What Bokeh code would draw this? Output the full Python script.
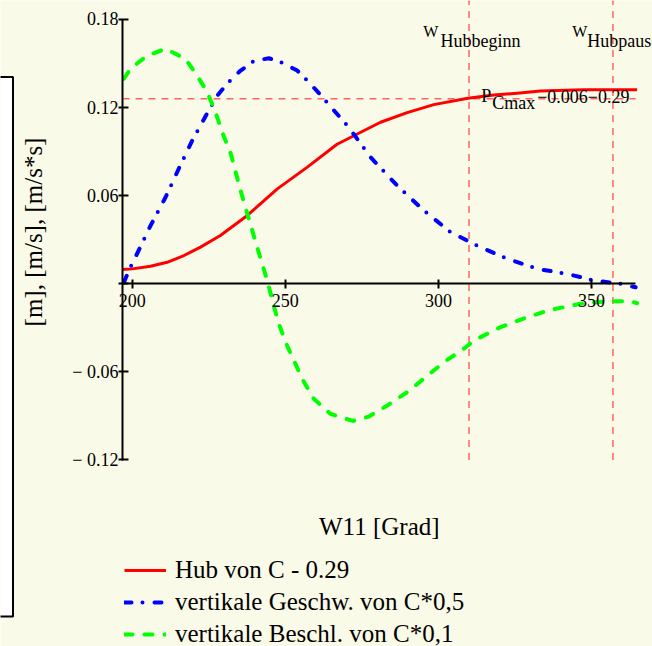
import math
from bokeh.plotting import figure
from bokeh.models import (Label, Legend, LegendItem, FixedTicker, LinearAxis,
                          BoxAnnotation, Range1d)
from bokeh.embed import file_html
from bokeh.resources import INLINE

# ---------------- data ----------------
hub_deg = [196.7, 200.0, 206.0, 211.4, 216.9, 222.3, 228.8, 237.6, 247.4, 257.2,
           266.9, 281.1, 289.8, 298.5, 309.6, 318.1, 325.7, 333.3, 347.5, 364.9]
hub_val = [0.0097, 0.0101, 0.0119, 0.0146, 0.0192, 0.0249, 0.0328, 0.0465, 0.0646, 0.0794,
           0.0950, 0.1100, 0.1165, 0.1220, 0.1263, 0.1285, 0.1298, 0.1313, 0.1322, 0.1322]

v_deg = [197.3, 199.4, 201.6, 206.0, 210.9, 215.2, 219.6, 222.3, 225.0, 227.8, 231.0,
         235.4, 239.7, 244.6, 249.0, 253.9, 258.2, 262.6, 266.4, 270.7, 277.8, 286.5,
         295.2, 304.0, 313.7, 322.5, 332.3, 342.1, 350.8, 359.5, 364.4]
v_val = [0.0010, 0.0112, 0.0204, 0.0396, 0.0589, 0.0783, 0.0975, 0.1078, 0.1180, 0.1282, 0.1362,
         0.1452, 0.1516, 0.1536, 0.1505, 0.1452, 0.1362, 0.1260, 0.1168, 0.1066, 0.0862, 0.0669,
         0.0499, 0.0351, 0.0249, 0.0170, 0.0101, 0.0067, 0.0022, -0.0001, -0.0024]

a_deg = [197.3, 199.4, 204.9, 210.9, 217.4, 221.2, 224.5, 227.2, 229.4, 232.2, 235.4, 237.6,
         240.8, 244.4, 246.2, 247.9, 250.1, 252.8, 255.5, 259.3, 264.7, 272.0, 277.3, 283.3,
         289.8, 295.8, 301.8, 308.3, 311.6, 320.3, 329.0, 336.6, 346.4, 355.1, 362.7, 364.9]
a_val = [0.1396, 0.1464, 0.1554, 0.1600, 0.1532, 0.1418, 0.1305, 0.1168, 0.1032, 0.0885, 0.0635, 0.0476,
         0.0249, 0.0000, -0.0149, -0.0273, -0.0399, -0.0523, -0.0648, -0.0784, -0.0886, -0.0935, -0.0905, -0.0830,
         -0.0739, -0.0637, -0.0535, -0.0443, -0.0387, -0.0296, -0.0228, -0.0178, -0.0137, -0.0119, -0.0119, -0.0133]

series_labels = ["Hub von C - 0.29", "vertikale Geschw. von C*0,5", "vertikale Beschl. von C*0,1"]

x_ticks = [200, 250, 300, 350]
x_tick_labels = ["200", "250", "300", "350"]
y_ticks = [-0.12, -0.06, 0.0, 0.06, 0.12, 0.18]
y_tick_labels = ["\u2212 0.12", "\u2212 0.06", "", "0.06", "0.12", "0.18"]

x_axis_bounds = (196.83, 364.4)
y_axis_bounds = (-0.1201, 0.1801)

w_hubbeginn = 310.0
w_hubpause = 357.0
p_cmax_line = 0.126

x_title = "W11 [Grad]"
y_title = "[m], [m/s], [m/s*s]"

# ---------------- layout ----------------
BG = "#FAFAE8"
FONT = "'Liberation Serif', 'Times New Roman', Tinos, 'Nimbus Roman', 'DejaVu Serif', serif"
W, H = 652, 646
X_LO, X_HI = 156.99, 369.92
Y_LO, Y_HI = -0.24714, 0.19292
SX = W / (X_HI - X_LO)
SY = H / (Y_HI - Y_LO)


def fx(px):
    """canvas pixel -> data x (text placement only)"""
    return X_LO + px / SX


def fy(py):
    return Y_HI - py / SY


p = figure(width=W, height=H, output_backend="svg", toolbar_location=None, title=None,
           x_range=Range1d(X_LO, X_HI), y_range=Range1d(Y_LO, Y_HI),
           x_axis_type=None, y_axis_type=None,
           min_border_left=0, min_border_right=0, min_border_top=0, min_border_bottom=0,
           background_fill_color=BG, border_fill_color=BG, outline_line_color=None)
p.grid.visible = False


def style_axis(ax, tick_in, tick_out, standoff):
    ax.axis_line_width = 2
    ax.axis_line_color = "black"
    ax.major_tick_line_width = 2
    ax.major_tick_line_color = "black"
    ax.major_tick_in = tick_in
    ax.major_tick_out = tick_out
    ax.minor_tick_line_color = None
    ax.major_label_standoff = standoff
    ax.major_label_text_font = FONT
    ax.major_label_text_font_size = "18px"
    ax.major_label_text_color = "black"


# y axis (at the left end of the x range)
yaxis = LinearAxis(ticker=FixedTicker(ticks=y_ticks), bounds=y_axis_bounds,
                   fixed_location=x_axis_bounds[0])
yaxis.major_label_overrides = dict(zip(y_ticks, y_tick_labels))
style_axis(yaxis, 6, 4, 0)
p.add_layout(yaxis, "left")

# x axis crossing at y = 0
xaxis = LinearAxis(ticker=FixedTicker(ticks=x_ticks), bounds=x_axis_bounds, fixed_location=0)
xaxis.major_label_overrides = dict(zip(x_ticks, x_tick_labels))
style_axis(xaxis, 4, 5, 5)
p.add_layout(xaxis, "below")

# marker lines
REF = "#FF6464"
p.segment(x0=[w_hubbeginn, w_hubpause], y0=[y_axis_bounds[0]] * 2,
          x1=[w_hubbeginn, w_hubpause], y1=[Y_HI] * 2,
          line_color=REF, line_width=1.5, line_dash="7 6", level="underlay")
p.segment(x0=[x_axis_bounds[0]], y0=[p_cmax_line], x1=[x_axis_bounds[1]], y1=[p_cmax_line],
          line_color=REF, line_width=1.5, line_dash="7 6", level="underlay")

# curves
r_hub = p.line(hub_deg, hub_val, line_color="#FF0000", line_width=3, line_join="round")
r_v = p.line(v_deg, v_val, line_color="#0000FF", line_width=4, line_dash="7 11 0 12",
             line_cap="round", line_join="round")
r_a = p.line(a_deg, a_val, line_color="#00FF00", line_width=4, line_dash="8 12",
             line_cap="round", line_join="round")


# texts (positioned by their visual centre line)
def lab(px, py, text, size, align="left", angle=0.0):
    p.add_layout(Label(x=fx(px), y=fy(py), text=text, text_font=FONT, text_font_size=size,
                       text_color="black", text_align=align, text_baseline="middle",
                       angle=angle))


lab(422.7, 31.4, "W", "16px")
lab(440.0, 40.8, "Hubbeginn", "18px")
lab(571.7, 31.4, "W", "16px")
lab(586.7, 40.8, "Hubpause", "18px")
lab(480.7, 95.8, "P", "18px")
lab(491.7, 102.4, "Cmax", "18px")
lab(536.7, 95.8, "\u22120.006\u22120.29", "18px")
lab(378.8, 525.7, x_title, "25px", align="center")
lab(33.0, 231.5, y_title, "25px", align="center", angle=math.pi / 2)

# partially visible frame at the left edge
p.add_layout(BoxAnnotation(left=fx(-20), right=fx(12.5), top=fy(76.5), bottom=fy(616),
                           fill_color="white", fill_alpha=1, line_color="black",
                           line_alpha=1, line_width=2, level="underlay"))

legend = Legend(items=[LegendItem(label=series_labels[0], renderers=[r_hub]),
                       LegendItem(label=series_labels[1], renderers=[r_v]),
                       LegendItem(label=series_labels[2], renderers=[r_a])],
                location=(124, -2), orientation="vertical",
                label_text_font=FONT, label_text_font_size="25px", label_text_color="black",
                glyph_width=42, glyph_height=28, label_height=28, spacing=4,
                padding=0, margin=0, label_standoff=9,
                border_line_color=None, background_fill_alpha=0)
p.add_layout(legend)

open("out.html", "w").write(file_html(p, INLINE))
